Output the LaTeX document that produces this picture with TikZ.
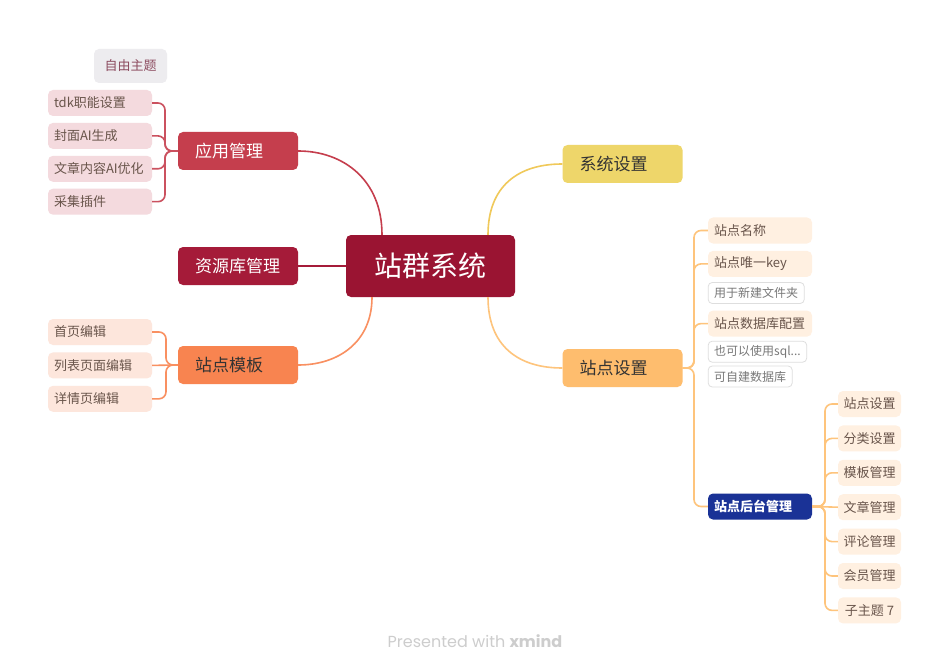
\documentclass[tikz,border=0pt]{standalone}
\usepackage{fontspec}
\setmainfont{Noto Sans CJK SC}
\newfontfamily\footfont{Poppins}
\usepackage{xcolor}
\usepackage{tikz}
\usetikzlibrary{positioning, calc}
\definecolor{rootred}{RGB}{154, 20, 50}
\definecolor{appred}{RGB}{197, 62, 77}
\definecolor{resred}{RGB}{165, 27, 57}
\definecolor{tplorange}{RGB}{248, 132, 80}
\definecolor{sysyellow}{RGB}{238, 214, 106}
\definecolor{siteorange}{RGB}{254, 189, 110}
\definecolor{adminblue}{RGB}{26, 50, 150}
\definecolor{apppink}{RGB}{244, 218, 222}
\definecolor{freegray}{RGB}{237, 236, 239}
\definecolor{tplpeach}{RGB}{253, 230, 220}
\definecolor{sitecream}{RGB}{255, 240, 225}
\definecolor{notegray}{RGB}{222, 222, 222}
\definecolor{notetext}{RGB}{120, 120, 120}
\definecolor{subtext}{RGB}{105, 85, 75}
\definecolor{footgray}{RGB}{205, 205, 205}

\begin{document}
\begin{tikzpicture}[
    x=1pt, y=-1pt,
    node distance=7pt,
    root/.style={rectangle, rounded corners=5pt, fill=rootred, minimum width=169pt, minimum height=62pt, inner sep=0pt, text=white, font=\fontsize{28}{30}\selectfont},
    topic/.style={rectangle, rounded corners=5pt, minimum width=120pt, minimum height=38pt, inner xsep=17pt, inner ysep=0pt, text width=86pt, align=left, font=\fontsize{17}{19}\selectfont},
    sub/.style={rectangle, rounded corners=5pt, minimum width=104pt, minimum height=26pt, inner xsep=6pt, inner ysep=0pt, text width=92pt, align=left, text=subtext, font=\fontsize{13}{15}\selectfont},
    leaf/.style={rectangle, rounded corners=5pt, fill=sitecream, minimum width=63pt, minimum height=26pt, inner sep=0pt, text=subtext, font=\fontsize{13}{15}\selectfont},
    note/.style={rectangle, rounded corners=4pt, draw=notegray, fill=white, line width=0.8pt, minimum height=21pt, inner xsep=6pt, inner ysep=0pt, text=notetext, font=\fontsize{12}{14}\selectfont},
    link/.style={line width=1.6pt},
    fork/.style={line width=1.6pt, rounded corners=7pt}
]
    \useasboundingbox[fill=white] (0,0) rectangle (950,671);

    % Central topic
    \node (root) [root] at (430.5,266) {站群系统};

    % Main topics
    \node (app) [topic, fill=appred, text=white] at (238,151) {应用管理};
    \node (res) [topic, fill=resred, text=white] at (238,266) {资源库管理};
    \node (tpl) [topic, fill=tplorange, text=black!80] at (238,365) {站点模板};
    \node (sys) [topic, fill=sysyellow, text=black!80] at (622.5,164) {系统设置};
    \node (site) [topic, fill=siteorange, text=black!80] at (622.5,368) {站点设置};

    % Floating topic
    \node (free) [rectangle, rounded corners=5pt, fill=freegray, minimum width=73pt, minimum height=34pt, inner sep=0pt, text={rgb,255:red,140;green,75;blue,95}, font=\fontsize{13}{15}\selectfont] at (130.5,66) {自由主题};

    % App children
    \node (tdk) [sub, fill=apppink] at (100,103) {tdk职能设置};
    \node (cover) [sub, fill=apppink, below=6.5pt of tdk] {封面AI生成};
    \node (optim) [sub, fill=apppink, below=6.5pt of cover] {文章内容AI优化};
    \node (crawl) [sub, fill=apppink, below=6.5pt of optim] {采集插件};

    % Template children
    \node (home) [sub, fill=tplpeach] at (100,332) {首页编辑};
    \node (list) [sub, fill=tplpeach, below=7pt of home] {列表页面编辑};
    \node (detail) [sub, fill=tplpeach, below=7pt of list] {详情页编辑};

    % Site children
    \node (sname) [sub, fill=sitecream] at (760,230.5) {站点名称};
    \node (skey) [sub, fill=sitecream, below=7pt of sname] {站点唯一key};
    \node (nfolder) [note, below=5pt of skey.south west, anchor=north west] {用于新建文件夹};
    \node (sdb) [sub, fill=sitecream, below=6.5pt of nfolder.south west, anchor=north west] {站点数据库配置};
    \node (nsql) [note, below=4pt of sdb.south west, anchor=north west] {也可以使用sql...};
    \node (nself) [note, below=3pt of nsql.south west, anchor=north west] {可自建数据库};
    \node (admin) [sub, fill=adminblue, text=white, font=\fontsize{13}{15}\selectfont\bfseries] at (760,506.5) {站点后台管理};

    % Admin children
    \node (a1) [leaf] at (869.5,404) {站点设置};
    \node (a2) [leaf, below=8pt of a1] {分类设置};
    \node (a3) [leaf, below=8pt of a2] {模板管理};
    \node (a4) [leaf, below=8pt of a3] {文章管理};
    \node (a5) [leaf, below=8pt of a4] {评论管理};
    \node (a6) [leaf, below=8pt of a5] {会员管理};
    \node (a7) [leaf, below=8pt of a6] {子主题 7};

    % Footer
    \node (foot) [text=footgray, font=\footfont\fontsize{16}{18}\selectfont] at (475,641) {Presented with \textbf{xmind}};

    % Root connections
    \draw [link, appred] ([xshift=-48.5pt]root.north) .. controls +(0,-55) and +(45,0) .. (app.east);
    \draw [link, resred] (root.west) -- (res.east);
    \draw [link, tplorange!90] ([xshift=-58.5pt]root.south) .. controls +(0,45) and +(40,0) .. (tpl.east);
    \draw [link, sysyellow!85!orange] ([xshift=57.5pt]root.north) .. controls +(0,-48) and +(-45,0) .. (sys.west);
    \draw [link, siteorange!90] ([xshift=57.5pt]root.south) .. controls +(0,48) and +(-45,0) .. (site.west);

    % App branches
    \coordinate (appfork) at (165,151);
    \draw [fork, appred!90] (app.west) -- (appfork) |- (tdk.east);
    \draw [fork, appred!90] (app.west) -- (appfork) |- (cover.east);
    \draw [fork, appred!90] (app.west) -- (appfork) |- (optim.east);
    \draw [fork, appred!90] (app.west) -- (appfork) |- (crawl.east);

    % Template branches
    \coordinate (tplfork) at (166,365);
    \draw [fork, tplorange!90] (tpl.west) -- (tplfork) |- (home.east);
    \draw [fork, tplorange!90] (tpl.west) -- (list.east);
    \draw [fork, tplorange!90] (tpl.west) -- (tplfork) |- (detail.east);

    % Site branches
    \coordinate (sitefork) at (694,368);
    \draw [fork, siteorange!90] (site.east) -- (sitefork) |- (sname.west);
    \draw [fork, siteorange!90] (site.east) -- (sitefork) |- (skey.west);
    \draw [fork, siteorange!90] (site.east) -- (sitefork) |- (sdb.west);
    \draw [fork, siteorange!90] (site.east) -- (sitefork) |- (admin.west);

    % Admin branches
    \coordinate (adminfork) at (825,506.5);
    \draw [fork, siteorange!90] (admin.east) -- (adminfork) |- (a1.west);
    \draw [fork, siteorange!90] (admin.east) -- (adminfork) |- (a2.west);
    \draw [fork, siteorange!90] (admin.east) -- (adminfork) |- (a3.west);
    \draw [fork, siteorange!90] (admin.east) -- (a4.west);
    \draw [fork, siteorange!90] (admin.east) -- (adminfork) |- (a5.west);
    \draw [fork, siteorange!90] (admin.east) -- (adminfork) |- (a6.west);
    \draw [fork, siteorange!90] (admin.east) -- (adminfork) |- (a7.west);
\end{tikzpicture}
\end{document}
